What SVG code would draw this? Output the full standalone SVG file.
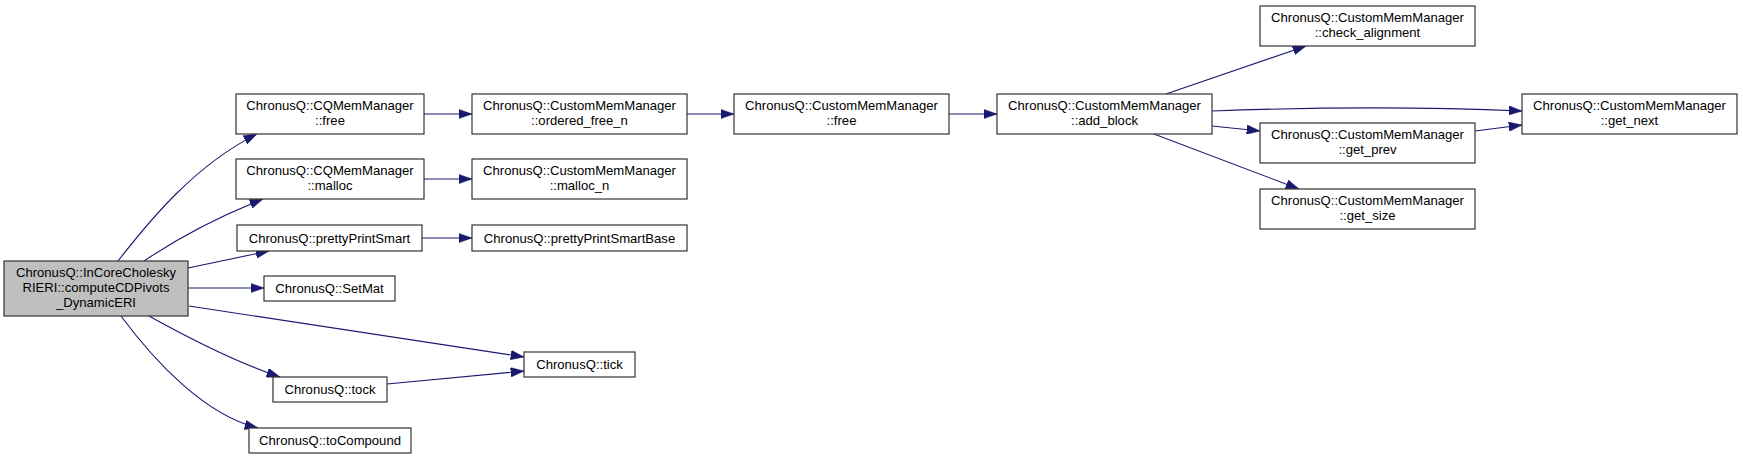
<svg xmlns="http://www.w3.org/2000/svg" width="1743" height="459" viewBox="0 0 1743 459">
<style>
.n rect{fill:#ffffff;stroke:#333333;stroke-width:1.2}
.n.root rect{fill:#bfbfbf}
.n text{font-family:"Liberation Sans",Arial,Helvetica,sans-serif;font-size:13.1px;fill:#000000;text-anchor:middle}
.e path{fill:none;stroke:#191970;stroke-width:1.1;marker-end:url(#ah)}
</style>
<defs>
<marker id="ah" markerUnits="userSpaceOnUse" viewBox="0 0 13.3 9.4" refX="13.3" refY="4.7" markerWidth="13.3" markerHeight="9.4" orient="auto">
<path d="M0,0 L13.3,4.7 L0,9.4 Z" fill="#191970" stroke="#191970" stroke-width="0.5"/>
</marker>
</defs>
<rect x="0" y="0" width="1743" height="459" fill="#ffffff"/>
<g id="edges" class="e">
<path d="M118,261 C150,220 195,165 257,134"/>
<path d="M144,261 C175,240 215,218 263,199"/>
<path d="M188,268 L269,251"/>
<path d="M188,288 L264,288"/>
<path d="M189,306 L524,357"/>
<path d="M149,316 C185,336 235,362 280,377"/>
<path d="M121,316 C155,362 205,415 258,428"/>
<path d="M387,384 L524,371"/>
<path d="M424,114 L472,114"/>
<path d="M424,179 L472,179"/>
<path d="M422,238 L472,238"/>
<path d="M687,114 L734,114"/>
<path d="M949,114 L997,114"/>
<path d="M1166,94 L1306,46"/>
<path d="M1212,111 C1320,107 1430,107 1522,111"/>
<path d="M1212,126 L1260,131"/>
<path d="M1154,134 L1299,189"/>
<path d="M1475,131 L1522,125"/>
</g>
<g id="node_main" class="n root"><rect x="4" y="261" width="184" height="55"/><text x="96" y="277">ChronusQ::InCoreCholesky</text><text x="96" y="292">RIERI::computeCDPivots</text><text x="96" y="307">_DynamicERI</text></g>
<g id="node_cq_free" class="n"><rect x="236" y="94" width="188" height="40"/><text x="330" y="110">ChronusQ::CQMemManager</text><text x="330" y="125">::free</text></g>
<g id="node_cq_malloc" class="n"><rect x="236" y="159" width="188" height="40"/><text x="330" y="175">ChronusQ::CQMemManager</text><text x="330" y="190">::malloc</text></g>
<g id="node_pps" class="n"><rect x="237" y="225" width="185" height="26"/><text x="329.5" y="242.5">ChronusQ::prettyPrintSmart</text></g>
<g id="node_setmat" class="n"><rect x="264" y="276" width="131" height="25"/><text x="329.5" y="293">ChronusQ::SetMat</text></g>
<g id="node_tick" class="n"><rect x="524" y="352" width="111" height="25"/><text x="579.5" y="369">ChronusQ::tick</text></g>
<g id="node_tock" class="n"><rect x="273" y="377" width="114" height="25"/><text x="330" y="394">ChronusQ::tock</text></g>
<g id="node_tocompound" class="n"><rect x="249" y="428" width="162" height="25"/><text x="330" y="445">ChronusQ::toCompound</text></g>
<g id="node_ordered_free_n" class="n"><rect x="472" y="94" width="215" height="40"/><text x="579.5" y="110">ChronusQ::CustomMemManager</text><text x="579.5" y="125">::ordered_free_n</text></g>
<g id="node_malloc_n" class="n"><rect x="472" y="159" width="215" height="40"/><text x="579.5" y="175">ChronusQ::CustomMemManager</text><text x="579.5" y="190">::malloc_n</text></g>
<g id="node_ppsb" class="n"><rect x="472" y="225" width="215" height="26"/><text x="579.5" y="242.5">ChronusQ::prettyPrintSmartBase</text></g>
<g id="node_cmm_free" class="n"><rect x="734" y="94" width="215" height="40"/><text x="841.5" y="110">ChronusQ::CustomMemManager</text><text x="841.5" y="125">::free</text></g>
<g id="node_add_block" class="n"><rect x="997" y="94" width="215" height="40"/><text x="1104.5" y="110">ChronusQ::CustomMemManager</text><text x="1104.5" y="125">::add_block</text></g>
<g id="node_check_alignment" class="n"><rect x="1260" y="6" width="215" height="40"/><text x="1367.5" y="22">ChronusQ::CustomMemManager</text><text x="1367.5" y="37">::check_alignment</text></g>
<g id="node_get_prev" class="n"><rect x="1260" y="123" width="215" height="40"/><text x="1367.5" y="139">ChronusQ::CustomMemManager</text><text x="1367.5" y="154">::get_prev</text></g>
<g id="node_get_size" class="n"><rect x="1260" y="189" width="215" height="40"/><text x="1367.5" y="205">ChronusQ::CustomMemManager</text><text x="1367.5" y="220">::get_size</text></g>
<g id="node_get_next" class="n"><rect x="1522" y="94" width="215" height="40"/><text x="1629.5" y="110">ChronusQ::CustomMemManager</text><text x="1629.5" y="125">::get_next</text></g>
</svg>
